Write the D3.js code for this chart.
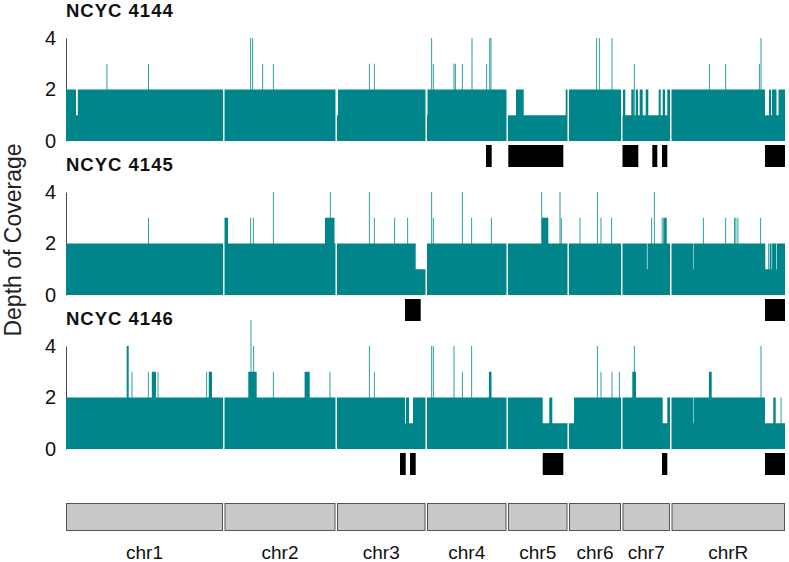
<!DOCTYPE html>
<html>
<head>
<meta charset="utf-8">
<script src="https://cdn.jsdelivr.net/npm/d3@7"></script>
<style>
  html, body { margin: 0; padding: 0; background: #fff; }
  svg { display: block; font-family: "Liberation Sans", Arial, sans-serif; }
</style>
</head>
<body>
<svg id="chart" width="789" height="562"></svg>
<script>
// ---------------- data ----------------
const chromNames   = ["chr1","chr2","chr3","chr4","chr5","chr6","chr7","chrR"];
const chromLengths = [1570, 1110, 885, 795, 595, 520, 475, 1135];   // kb
const sampleNames  = ["NCYC 4144", "NCYC 4145", "NCYC 4146"];
const depthTicks   = [0, 2, 4];
const baseDepth    = 2;

// regions whose depth differs from the base depth: [chrom, start kb, end kb, depth]
// (later entries override earlier ones)
const cov4144 = [
  ["chr1",100,118,1],["chr1",405,413,3],["chr1",822,830,3],
  ["chr2",258,266,4],["chr2",278,286,4],["chr2",378,386,3],["chr2",484,492,3],
  ["chr3",0,10,1],["chr3",319,327,3],["chr3",369,377,3],
  ["chr4",0,5,1],["chr4",43,51,4],["chr4",59,67,3],["chr4",266,274,3],["chr4",279,287,3],
  ["chr4",349,357,3],["chr4",446,454,4],["chr4",593,601,3],["chr4",623,631,4],["chr4",636,644,4],
  ["chr5",0,80,1],["chr5",157,577,1],
  ["chr6",273,281,4],["chr6",299,307,4],["chr6",426,434,4],
  ["chr7",0,475,1],["chr7",5,28,2],["chr7",88,112,2],["chr7",114,122,3],["chr7",132,155,2],
  ["chr7",172,202,2],["chr7",232,258,2],["chr7",362,382,2],["chr7",402,425,2],["chr7",448,475,2],
  ["chrR",374,382,3],["chrR",538,546,3],["chrR",874,882,3],["chrR",891,899,4],
  ["chrR",935,975,1],["chrR",995,1005,1],["chrR",1050,1070,1]
];
const cov4145 = [
  ["chr1",822,830,3],
  ["chr2",0,35,3],["chr2",258,266,3],["chr2",284,292,3],["chr2",484,492,4],
  ["chr2",1005,1100,3],["chr2",1054,1062,4],
  ["chr3",319,327,4],["chr3",369,377,3],["chr3",573,581,3],["chr3",703,711,3],["chr3",787,885,1],
  ["chr4",43,51,4],["chr4",59,67,3],["chr4",349,357,4],["chr4",443,451,3],["chr4",639,647,3],
  ["chr5",337,403,3],["chr5",333,341,4],["chr5",516,524,4],["chr5",529,537,3],
  ["chr6",106,114,3],["chr6",279,287,4],["chr6",316,324,3],["chr6",423,431,3],
  ["chr7",244,250,1],["chr7",288,296,3],["chr7",314,322,4],["chr7",392,400,3],["chr7",405,412,3],["chr7",416,442,3],
  ["chrR",215,220,1],["chrR",314,322,3],["chrR",538,546,3],["chrR",625,633,3],["chrR",640,648,3],
  ["chrR",660,668,3],["chrR",888,896,3],
  ["chrR",938,968,1],["chrR",978,984,1],["chrR",1000,1006,1],["chrR",1046,1052,1]
];
const cov4146 = [
  ["chr1",607,627,4],["chr1",656,664,3],["chr1",819,827,3],["chr1",858,900,3],["chr1",916,924,3],
  ["chr1",1403,1411,3],["chr1",1428,1460,3],
  ["chr2",238,322,3],["chr2",261,269,5],["chr2",288,296,4],["chr2",484,492,3],["chr2",801,852,3],["chr2",1051,1059,3],
  ["chr3",319,327,4],["chr3",369,377,3],["chr3",680,690,1],["chr3",720,760,1],
  ["chr4",43,51,4],["chr4",59,67,4],["chr4",266,274,4],["chr4",349,357,3],["chr4",443,451,4],["chr4",619,645,3],
  ["chr5",347,413,1],["chr5",443,595,1],
  ["chr6",0,50,1],["chr6",279,287,4],["chr6",316,324,3],["chr6",426,434,3],["chr6",499,507,3],
  ["chr7",98,135,3],["chr7",114,122,4],["chr7",402,448,1],
  ["chrR",215,220,1],["chrR",374,402,3],["chrR",891,899,4],
  ["chrR",935,1135,1],["chrR",1018,1042,2],["chrR",1092,1100,2]
];
const coverage = [cov4144, cov4145, cov4146];

// marked (black) regions: [chrom, start kb, end kb]
const mark4144 = [["chr4",590,647],["chr5",3,553],["chr7",0,158],["chr7",298,348],["chr7",395,448],["chrR",935,1135]];
const mark4145 = [["chr3",680,837],["chrR",935,1135]];
const mark4146 = [["chr3",630,687],["chr3",730,787],["chr5",347,553],["chr7",395,448],["chrR",935,1135]];
const marks = [mark4144, mark4145, mark4146];

// ---------------- layout ----------------
const teal = "#00868a";
const gapKb = 15;
const chromStart = {};
let acc = 0;
chromNames.forEach((c, i) => { chromStart[c] = acc; acc += chromLengths[i] + (i < chromNames.length - 1 ? gapKb : 0); });
const totalKb = acc;

const svg = d3.select("#chart");
const x = d3.scaleLinear().domain([0, totalKb]).range([66, 785]);

function profile(len, ovs) {
  const bps = new Set([0, len]);
  ovs.forEach(o => { bps.add(Math.max(0, Math.min(len, o[1]))); bps.add(Math.max(0, Math.min(len, o[2]))); });
  const xs = [...bps].sort((a, b) => a - b);
  const pts = [];
  for (let i = 0; i < xs.length - 1; i++) {
    const a = xs[i], b = xs[i + 1];
    if (b <= a) continue;
    const mid = (a + b) / 2;
    let d = baseDepth;
    ovs.forEach(o => { if (mid > o[1] && mid < o[2]) d = o[3]; });
    pts.push({ x: a, y: d });
  }
  pts.push({ x: len, y: pts[pts.length - 1].y });
  return pts;
}

sampleNames.forEach((name, si) => {
  const y0 = 141 + 154 * si;
  const y = d3.scaleLinear().domain([0, 4]).range([y0, y0 - 103]);
  const g = svg.append("g");

  // title
  g.append("text").attr("x", 66).attr("y", y0 - 124)
    .attr("font-size", 18.5).attr("font-weight", "bold").attr("letter-spacing", "1px")
    .attr("fill", "#111").text(name);

  // axis
  const axis = d3.axisLeft(y).tickValues(depthTicks).tickFormat(d3.format("d"))
    .tickSize(0).tickPadding(10).tickSizeOuter(0);
  const ag = g.append("g").attr("transform", "translate(66,0)").call(axis);
  ag.select(".domain").attr("stroke", "#444").attr("stroke-width", 1);
  ag.selectAll("text").attr("font-size", 20).attr("fill", "#111")
    .attr("font-family", "'Liberation Sans', Arial, sans-serif");

  // coverage areas
  chromNames.forEach((c, ci) => {
    const ovs = coverage[si].filter(o => o[0] === c);
    const pts = profile(chromLengths[ci], ovs);
    const area = d3.area().curve(d3.curveStepAfter)
      .x(d => x(chromStart[c] + d.x)).y0(y(0)).y1(d => y(d.y));
    g.append("path").datum(pts).attr("d", area).attr("fill", teal);
  });

  // marked regions
  g.selectAll("rect.mark").data(marks[si]).enter().append("rect")
    .attr("class", "mark")
    .attr("x", d => x(chromStart[d[0]] + d[1]))
    .attr("width", d => x(chromStart[d[0]] + d[2]) - x(chromStart[d[0]] + d[1]))
    .attr("y", y0 + 4).attr("height", 22).attr("fill", "#000");
});

// y label
svg.append("text").attr("transform", "translate(21,240) rotate(-90)")
  .attr("text-anchor", "middle").attr("font-size", 23).attr("fill", "#222")
  .text("Depth of Coverage");

// chromosome ideogram
const ig = svg.append("g");
chromNames.forEach((c, ci) => {
  const xa = x(chromStart[c]), xb = x(chromStart[c] + chromLengths[ci]);
  ig.append("rect").attr("x", xa + 0.5).attr("y", 503.5).attr("width", xb - xa - 1).attr("height", 27)
    .attr("fill", "#c8c8c8").attr("stroke", "#555").attr("stroke-width", 1);
  ig.append("text").attr("x", (xa + xb) / 2).attr("y", 559).attr("text-anchor", "middle")
    .attr("font-size", 19).attr("fill", "#111").text(c);
});
</script>
</body>
</html>
